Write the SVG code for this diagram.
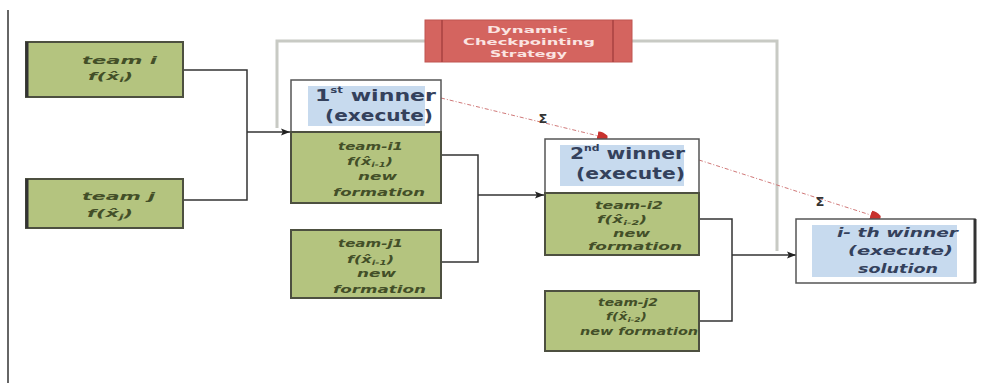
<svg xmlns="http://www.w3.org/2000/svg" width="997" height="383" viewBox="0 0 997 383">
<style>
.team{fill:#b4c47f;stroke:#4d5040;stroke-width:2}
.win{fill:#ffffff;stroke:#555;stroke-width:1.5}
.hl{fill:#c7daee}
.tt{font-family:"DejaVu Sans",sans-serif;font-style:italic;font-weight:bold;font-size:11px;fill:#434f28}
.ts{font-size:10px}
.wt{font-family:"DejaVu Sans",sans-serif;font-weight:bold;font-size:15px;fill:#34415c}
.wi{font-family:"DejaVu Sans",sans-serif;font-style:italic;font-weight:bold;font-size:13px;fill:#34415c}
.ct{font-family:"DejaVu Sans",sans-serif;font-weight:bold;font-size:9.5px;fill:#fbe4e2}
.conn{fill:none;stroke:#333;stroke-width:1.5}
.gray{fill:none;stroke:#c8cac4;stroke-width:3}
.red{fill:none;stroke:#d07878;stroke-width:1;stroke-dasharray:4 2 1 2}
.sig{font-family:"DejaVu Sans",sans-serif;font-weight:bold;font-size:13px;fill:#333;text-anchor:middle}
</style>
<defs>
<marker id="ar" viewBox="0 0 10 10" refX="10" refY="5" markerWidth="9" markerHeight="9" orient="auto" markerUnits="userSpaceOnUse"><path d="M0,1 L10,5 L0,9 L2,5 Z" fill="#222"/></marker>
<marker id="rar" viewBox="0 0 10 10" refX="9" refY="5" markerWidth="11" markerHeight="11" orient="auto" markerUnits="userSpaceOnUse"><path d="M0,1 Q4,0 9,3 Q10,5 9,7 Q4,10 0,9 Z" fill="#c8322e"/></marker>
</defs>
<line x1="8" y1="10" x2="8" y2="383" stroke="#333" stroke-width="1.5"/>
<g id="connectors">
<path class="gray" d="M277,128 V41 H777 V251"/>
<path class="conn" d="M183,70 H247 V200 H183"/>
<path class="conn" d="M247,132 H290" marker-end="url(#ar)"/>
<path class="conn" d="M441,155 H478 V262 H441"/>
<path class="conn" d="M478,195 H544" marker-end="url(#ar)"/>
<path class="conn" d="M699,219 H732 V321 H699"/>
<path class="conn" d="M732,255 H796" marker-end="url(#ar)"/>
<path class="red" d="M441,98 L607,138" marker-end="url(#rar)"/>
<path class="red" d="M699,160 L880,218" marker-end="url(#rar)"/>
<text class="sig" x="543" y="123">Σ</text>
<text class="sig" x="820" y="206">Σ</text>
</g>
<g id="checkpoint">
<rect x="425" y="20" width="207" height="42" fill="#d4645f" stroke="#c05450" stroke-width="1"/>
<line x1="442" y1="20" x2="442" y2="62" stroke="#a84240" stroke-width="1.5"/>
<line x1="613" y1="20" x2="613" y2="62" stroke="#a84240" stroke-width="1.5"/>
<text class="ct" x="487" y="33" textLength="81" lengthAdjust="spacingAndGlyphs">Dynamic</text>
<text class="ct" x="463" y="45" textLength="132" lengthAdjust="spacingAndGlyphs">Checkpointing</text>
<text class="ct" x="490" y="57" textLength="77" lengthAdjust="spacingAndGlyphs">Strategy</text>
</g>
<g id="team-i">
<rect class="team" x="26" y="42" width="157" height="55"/>
<line x1="27" y1="42" x2="27" y2="97" stroke="#333" stroke-width="3"/>
<text class="tt" x="82" y="64" textLength="75" lengthAdjust="spacingAndGlyphs">team i</text>
<text class="tt" x="88" y="80" textLength="45" lengthAdjust="spacingAndGlyphs">f(x̂<tspan font-size="7" dy="2">i</tspan><tspan dy="-2">)</tspan></text>
</g>
<g id="team-j">
<rect class="team" x="26" y="179" width="157" height="49"/>
<line x1="27" y1="179" x2="27" y2="228" stroke="#333" stroke-width="3"/>
<text class="tt" x="82" y="200" textLength="73" lengthAdjust="spacingAndGlyphs">team j</text>
<text class="tt" x="87" y="217" textLength="46" lengthAdjust="spacingAndGlyphs">f(x̂<tspan font-size="7" dy="2">j</tspan><tspan dy="-2">)</tspan></text>
</g>
<g id="winner1">
<rect class="win" x="291" y="80" width="150" height="123"/>
<rect class="hl" x="308" y="86" width="117" height="40"/>
<rect class="team" x="291" y="132" width="150" height="71"/>
<text class="wt" x="315" y="101" textLength="121" lengthAdjust="spacingAndGlyphs">1<tspan font-size="8" dy="-8">st</tspan><tspan dy="8">  winner</tspan></text>
<text class="wt" x="325" y="121" textLength="108" lengthAdjust="spacingAndGlyphs">(execute)</text>
<text class="tt" x="338" y="150" textLength="65" lengthAdjust="spacingAndGlyphs">team-i1</text>
<text class="tt" x="347" y="165" textLength="46" lengthAdjust="spacingAndGlyphs">f(x̂<tspan font-size="7" dy="2">i-1</tspan><tspan dy="-2">)</tspan></text>
<text class="tt" x="358" y="180" textLength="39" lengthAdjust="spacingAndGlyphs">new</text>
<text class="tt" x="333" y="196" textLength="92" lengthAdjust="spacingAndGlyphs">formation</text>
</g>
<g id="team-j1">
<rect class="team" x="291" y="230" width="150" height="68"/>
<text class="tt" x="338" y="247" textLength="65" lengthAdjust="spacingAndGlyphs">team-j1</text>
<text class="tt" x="347" y="263" textLength="47" lengthAdjust="spacingAndGlyphs">f(x̂<tspan font-size="7" dy="2">i-1</tspan><tspan dy="-2">)</tspan></text>
<text class="tt" x="357" y="277" textLength="39" lengthAdjust="spacingAndGlyphs">new</text>
<text class="tt" x="333" y="293" textLength="93" lengthAdjust="spacingAndGlyphs">formation</text>
</g>
<g id="winner2">
<rect class="win" x="545" y="139" width="154" height="116"/>
<rect class="hl" x="560" y="145" width="124" height="41"/>
<rect class="team" x="545" y="193" width="154" height="62"/>
<text class="wt" x="570" y="159" textLength="115" lengthAdjust="spacingAndGlyphs">2<tspan font-size="8" dy="-8">nd</tspan><tspan dy="8"> winner</tspan></text>
<text class="wt" x="576" y="179" textLength="109" lengthAdjust="spacingAndGlyphs">(execute)</text>
<text class="tt ts" x="595" y="209" textLength="68" lengthAdjust="spacingAndGlyphs">team-i2</text>
<text class="tt ts" x="597" y="223" textLength="50" lengthAdjust="spacingAndGlyphs">f(x̂<tspan font-size="6.5" dy="2">i-2</tspan><tspan dy="-2">)</tspan></text>
<text class="tt ts" x="613" y="237" textLength="37" lengthAdjust="spacingAndGlyphs">new</text>
<text class="tt ts" x="588" y="250" textLength="94" lengthAdjust="spacingAndGlyphs">formation</text>
</g>
<g id="team-j2">
<rect class="team" x="545" y="291" width="154" height="60"/>
<text class="tt ts" x="598" y="306" textLength="60" lengthAdjust="spacingAndGlyphs">team-j2</text>
<text class="tt ts" x="606" y="320" textLength="41" lengthAdjust="spacingAndGlyphs">f(x̂<tspan font-size="6.5" dy="2">i-2</tspan><tspan dy="-2">)</tspan></text>
<text class="tt ts" x="580" y="335" textLength="118" lengthAdjust="spacingAndGlyphs">new formation</text>
</g>
<g id="winner-i">
<rect class="win" x="796" y="219" width="179" height="64"/>
<line x1="975" y1="219" x2="975" y2="283" stroke="#333" stroke-width="3"/>
<rect class="hl" x="812" y="225" width="145" height="52"/>
<text class="wi" x="837" y="237" textLength="121" lengthAdjust="spacingAndGlyphs">i- th winner</text>
<text class="wi" x="848" y="255" textLength="105" lengthAdjust="spacingAndGlyphs">(execute)</text>
<text class="wi" x="858" y="273" textLength="80" lengthAdjust="spacingAndGlyphs">solution</text>
</g>
</svg>
